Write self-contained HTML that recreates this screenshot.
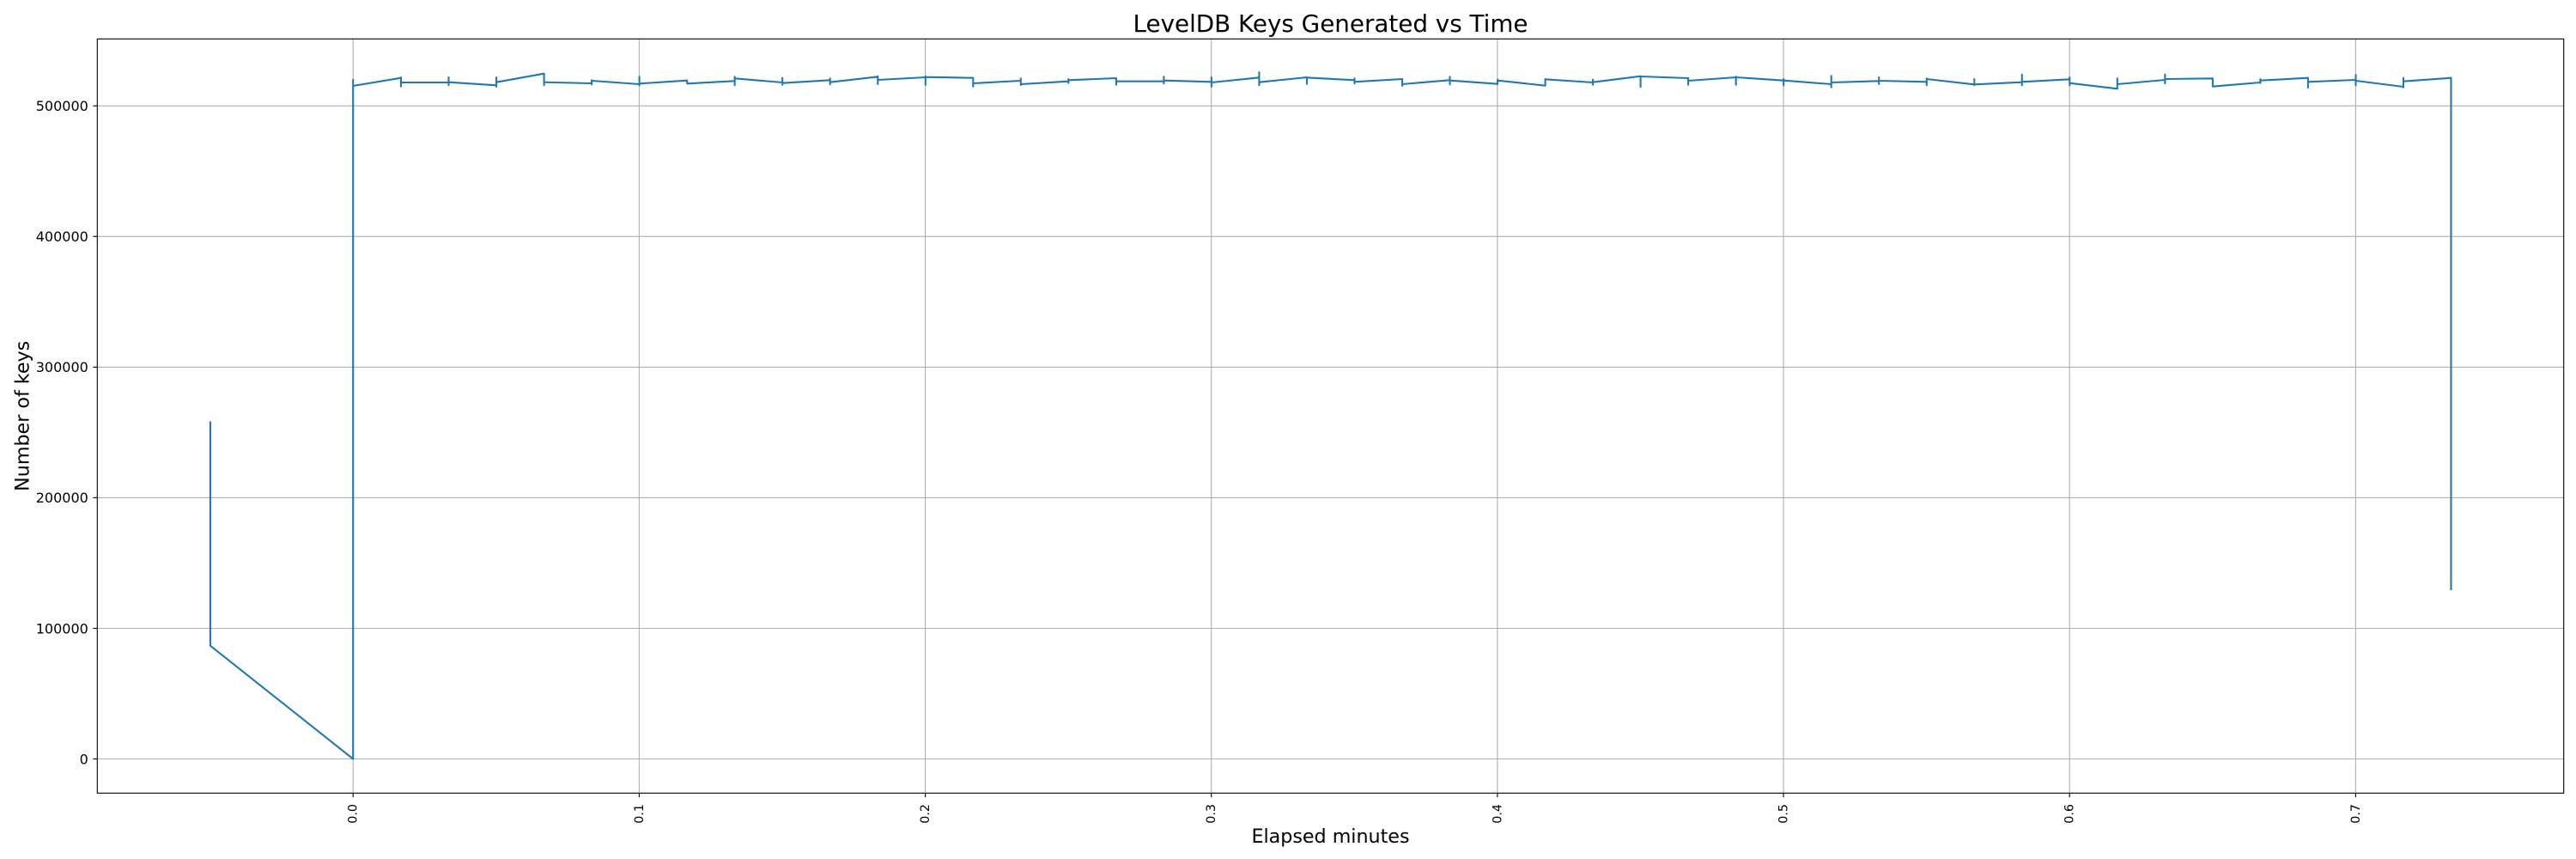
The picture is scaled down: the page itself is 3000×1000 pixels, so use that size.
<!DOCTYPE html>
<html>
<head>
<meta charset="utf-8">
<style>
html,body{margin:0;padding:0;background:#fff;}
body{width:3000px;height:1000px;overflow:hidden;}
svg{display:block;}
text{font-family:"DejaVu Sans","Liberation Sans",sans-serif;fill:#000;}
</style>
</head>
<body>
<svg width="3000" height="1000" viewBox="0 0 3000 1000" xmlns="http://www.w3.org/2000/svg">
<rect x="0" y="0" width="3000" height="1000" fill="#fff"/>
<g stroke="#b0b0b0" stroke-width="1.11" fill="none">
<line x1="113.3" y1="883.5" x2="2985.7" y2="883.5"/>
<line x1="113.3" y1="731.5" x2="2985.7" y2="731.5"/>
<line x1="113.3" y1="579.4" x2="2985.7" y2="579.4"/>
<line x1="113.3" y1="427.4" x2="2985.7" y2="427.4"/>
<line x1="113.3" y1="275.3" x2="2985.7" y2="275.3"/>
<line x1="113.3" y1="123.3" x2="2985.7" y2="123.3"/>
<line x1="411.2" y1="45.3" x2="411.2" y2="923.3"/>
<line x1="744.4" y1="45.3" x2="744.4" y2="923.3"/>
<line x1="1077.6" y1="45.3" x2="1077.6" y2="923.3"/>
<line x1="1410.7" y1="45.3" x2="1410.7" y2="923.3"/>
<line x1="1743.9" y1="45.3" x2="1743.9" y2="923.3"/>
<line x1="2077.0" y1="45.3" x2="2077.0" y2="923.3"/>
<line x1="2410.2" y1="45.3" x2="2410.2" y2="923.3"/>
<line x1="2743.4" y1="45.3" x2="2743.4" y2="923.3"/>
</g>
<path fill="none" stroke="#1f77b4" stroke-width="2.08" stroke-linejoin="round" stroke-linecap="square" d="M244.9 491.6 L244.9 751.7 L411.2 883.5 L411.2 92.7 L411.2 100 L467.0 90.7 L467.0 90.0 L467.0 100.7 L467.0 96.0 L522.5 96.0 L522.5 90.0 L522.5 99.3 L522.5 95.7 L578.1 99.3 L578.1 90.0 L578.1 101.0 L578.1 95.7 L633.6 85.7 L633.6 99.3 L633.6 95.7 L689.1 97.0 L689.1 93.3 L689.1 98.3 L689.1 94.0 L744.6 98.0 L744.6 89.3 L744.6 99.3 L744.6 97.3 L800.2 93.7 L800.2 97.3 L855.7 94.3 L855.7 89.3 L855.7 99.3 L855.7 91.3 L911.2 96.0 L911.2 90.7 L911.2 98.7 L911.2 96.7 L966.7 93.3 L966.7 91.3 L966.7 98.3 L966.7 95.7 L1022.3 89.3 L1022.3 88.7 L1022.3 98.0 L1022.3 93.0 L1077.8 90.0 L1077.8 88.7 L1077.8 98.7 L1077.8 89.7 L1133.3 90.7 L1133.3 100.7 L1133.3 97.0 L1188.8 94.0 L1188.8 91.3 L1188.8 99.0 L1188.8 98.0 L1244.3 94.7 L1244.3 92.0 L1244.3 96.7 L1244.3 93.3 L1299.9 91.0 L1299.9 98.7 L1299.9 94.7 L1355.4 94.7 L1355.4 89.3 L1355.4 97.3 L1355.4 93.7 L1410.9 95.3 L1410.9 90.0 L1410.9 101.0 L1410.9 96.0 L1466.4 90.3 L1466.4 84.0 L1466.4 99.3 L1466.4 95.7 L1522.0 90.0 L1522.0 97.7 L1522.0 90.3 L1577.5 93.3 L1577.5 91.3 L1577.5 97.3 L1577.5 95.3 L1633.0 92.0 L1633.0 100.0 L1633.0 98.0 L1688.5 93.3 L1688.5 89.3 L1688.5 98.3 L1688.5 93.7 L1744.1 97.7 L1744.1 92.7 L1744.1 98.0 L1744.1 93.7 L1799.6 99.7 L1799.6 92.0 L1799.6 99.7 L1799.6 92.3 L1855.1 96.0 L1855.1 92.7 L1855.1 98.7 L1855.1 95.7 L1910.6 88.7 L1910.6 101.3 L1910.6 89.0 L1966.1 91.0 L1966.1 98.7 L1966.1 94.0 L2021.7 90.0 L2021.7 89.3 L2021.7 98.7 L2021.7 90.0 L2077.2 93.7 L2077.2 92.0 L2077.2 99.3 L2077.2 93.7 L2132.7 98.0 L2132.7 88.3 L2132.7 101.7 L2132.7 96.0 L2188.2 94.3 L2188.2 90.0 L2188.2 98.0 L2188.2 94.0 L2243.8 95.3 L2243.8 91.3 L2243.8 99.3 L2243.8 92.0 L2299.3 98.3 L2299.3 92.0 L2299.3 99.3 L2299.3 98.3 L2354.8 95.7 L2354.8 86.7 L2354.8 99.3 L2354.8 95.3 L2410.3 92.3 L2410.3 90.0 L2410.3 99.3 L2410.3 96.7 L2465.8 103.3 L2465.8 91.3 L2465.8 103.3 L2465.8 98.0 L2521.4 93.0 L2521.4 86.7 L2521.4 97.3 L2521.4 92.0 L2576.9 91.3 L2576.9 100.7 L2632.4 96.0 L2632.4 92.0 L2632.4 96.7 L2632.4 93.7 L2687.9 90.7 L2687.9 102.0 L2687.9 95.3 L2743.5 93.0 L2743.5 87.3 L2743.5 99.3 L2743.5 94.0 L2799.0 101.0 L2799.0 90.7 L2799.0 101.7 L2799.0 94.7 L2854.5 90.7 L2854.5 685.9"/>
<rect x="113.3" y="45.3" width="2872.4" height="878" fill="none" stroke="#000" stroke-width="1.11"/>
<g stroke="#000" stroke-width="1.11">
<line x1="108.4" y1="883.5" x2="113.3" y2="883.5"/>
<line x1="108.4" y1="731.5" x2="113.3" y2="731.5"/>
<line x1="108.4" y1="579.4" x2="113.3" y2="579.4"/>
<line x1="108.4" y1="427.4" x2="113.3" y2="427.4"/>
<line x1="108.4" y1="275.3" x2="113.3" y2="275.3"/>
<line x1="108.4" y1="123.3" x2="113.3" y2="123.3"/>
<line x1="411.2" y1="923.3" x2="411.2" y2="928.2"/>
<line x1="744.4" y1="923.3" x2="744.4" y2="928.2"/>
<line x1="1077.6" y1="923.3" x2="1077.6" y2="928.2"/>
<line x1="1410.7" y1="923.3" x2="1410.7" y2="928.2"/>
<line x1="1743.9" y1="923.3" x2="1743.9" y2="928.2"/>
<line x1="2077.0" y1="923.3" x2="2077.0" y2="928.2"/>
<line x1="2410.2" y1="923.3" x2="2410.2" y2="928.2"/>
<line x1="2743.4" y1="923.3" x2="2743.4" y2="928.2"/>
</g>
<g font-size="16" text-anchor="end">
<text x="102.8" y="889.3">0</text>
<text x="102.8" y="737.3">100000</text>
<text x="102.8" y="585.2">200000</text>
<text x="102.8" y="433.2">300000</text>
<text x="102.8" y="281.1">400000</text>
<text x="102.8" y="129.1">500000</text>
</g>
<g font-size="14.3" text-anchor="end">
<text transform="translate(415.6,936) rotate(-90)">0.0</text>
<text transform="translate(748.8,936) rotate(-90)">0.1</text>
<text transform="translate(1082.0,936) rotate(-90)">0.2</text>
<text transform="translate(1415.1,936) rotate(-90)">0.3</text>
<text transform="translate(1748.3,936) rotate(-90)">0.4</text>
<text transform="translate(2081.4,936) rotate(-90)">0.5</text>
<text transform="translate(2414.6,936) rotate(-90)">0.6</text>
<text transform="translate(2747.8,936) rotate(-90)">0.7</text>
</g>
<text x="1549.5" y="981" font-size="22.2" text-anchor="middle">Elapsed minutes</text>
<text transform="translate(33.3,484.3) rotate(-90)" font-size="22.2" text-anchor="middle">Number of keys</text>
<text x="1549.5" y="36.8" font-size="27.78" text-anchor="middle">LevelDB Keys Generated vs Time</text>
</svg>
</body>
</html>
